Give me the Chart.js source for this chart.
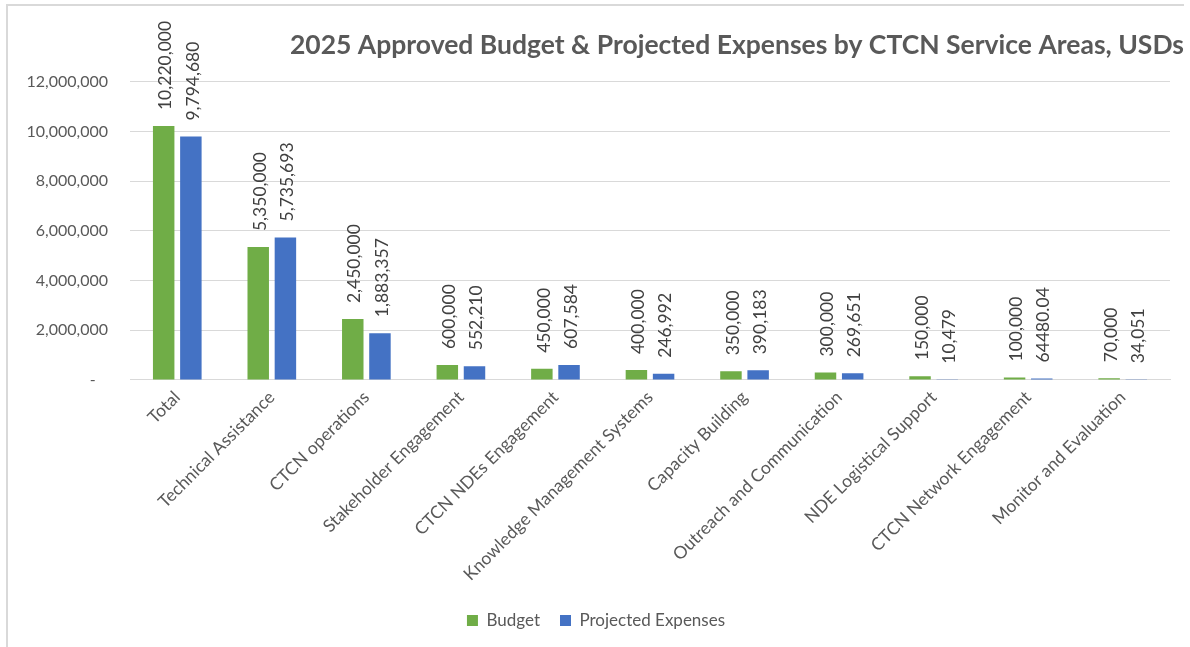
<!DOCTYPE html>
<html>
<head>
<meta charset="utf-8">
<script src="https://cdn.jsdelivr.net/npm/chart.js@4.4.1/dist/chart.umd.min.js"></script>
<style>
    body { margin: 0; background: #fff; }
    .chart-frame {
        position: absolute;
        left: 6px;
        top: 4px;
        width: 1176px;
        height: 643px;
        border-top: 2px solid #d9d9d9;
        border-left: 2px solid #d9d9d9;
    }
    .chart-container { position: relative; width: 1176px; height: 641px; }
</style>
</head>
<body>
<div class="chart-frame">
    <div class="chart-container">
        <canvas id="budgetChart"></canvas>
    </div>
</div>
<script>
// data
const serviceAreas = [
    'Total',
    'Technical Assistance',
    'CTCN operations',
    'Stakeholder Engagement',
    'CTCN NDEs Engagement',
    'Knowledge Management Systems',
    'Capacity Building',
    'Outreach and Communication',
    'NDE Logistical Support',
    'CTCN Network Engagement',
    'Monitor and Evaluation'
];
const budget = [10220000, 5350000, 2450000, 600000, 450000, 400000, 350000, 300000, 150000, 100000, 70000];
const projectedExpenses = [9794680, 5735693, 1883357, 552210, 607584, 246992, 390183, 269651, 10479, 64480.04, 34051];
const yTicks = [0, 2000000, 4000000, 6000000, 8000000, 10000000, 12000000];

const textColor = '#595959';
const fontFamily = 'Lato, "Open Sans", sans-serif';

const formatValue = v => Number.isInteger(v) ? v.toLocaleString('en-US') : String(v);

// rotated value labels above each bar
const barLabels = {
    id: 'barLabels',
    afterDatasetsDraw(chart) {
        const ctx = chart.ctx;
        ctx.save();
        ctx.font = '17.5px ' + fontFamily;
        ctx.fillStyle = '#404040';
        ctx.textAlign = 'left';
        ctx.textBaseline = 'middle';
        chart.data.datasets.forEach((ds, i) => {
            const meta = chart.getDatasetMeta(i);
            meta.data.forEach((bar, j) => {
                ctx.save();
                ctx.translate(bar.x + 2, bar.y - 16);
                ctx.rotate(-Math.PI / 2);
                ctx.fillText(formatValue(ds.data[j]), 0, 0);
                ctx.restore();
            });
        });
        ctx.restore();
    }
};

const ctx = document.getElementById('budgetChart').getContext('2d');
new Chart(ctx, {
    type: 'bar',
    data: {
        labels: serviceAreas,
        datasets: [{
            label: 'Budget',
            data: budget,
            backgroundColor: '#70ad47'
        }, {
            label: 'Projected Expenses',
            data: projectedExpenses,
            backgroundColor: '#4472c4'
        }]
    },
    options: {
        responsive: true,
        maintainAspectRatio: false,
        animation: false,
        categoryPercentage: 0.575,
        barPercentage: 0.79,
        layout: { padding: { left: 0, right: 0, top: 0, bottom: 8 } },
        scales: {
            x: {
                grid: { display: false, drawTicks: false },
                border: { color: '#d9d9d9', width: 1 },
                ticks: {
                    color: textColor,
                    font: { family: fontFamily, size: 17.5 },
                    minRotation: 45,
                    maxRotation: 45,
                    padding: 7
                },
                afterFit(scale) {
                    scale.paddingRight = 14;
                }
            },
            y: {
                min: 0,
                max: 12000000,
                afterBuildTicks(scale) {
                    scale.ticks = yTicks.map(v => ({ value: v }));
                },
                grid: { color: '#d9d9d9', drawTicks: false },
                border: { display: false },
                ticks: {
                    color: textColor,
                    font: { family: fontFamily, size: 16 },
                    padding: 22,
                    callback: v => v === 0 ? '-   ' : v.toLocaleString('en-US')
                },
                afterFit(scale) {
                    scale.width = 122;
                }
            }
        },
        plugins: {
            title: {
                display: true,
                text: '2025 Approved Budget & Projected Expenses by CTCN Service Areas, USDs',
                align: 'end',
                color: textColor,
                font: { family: fontFamily, size: 26.5, weight: 'bold' },
                padding: { top: 24, bottom: 20 }
            },
            legend: {
                position: 'bottom',
                labels: {
                    color: textColor,
                    font: { family: fontFamily, size: 17 },
                    boxWidth: 11,
                    boxHeight: 11,
                    padding: 20
                }
            },
            tooltip: { enabled: false }
        }
    },
    plugins: [barLabels]
});
</script>
</body>
</html>
